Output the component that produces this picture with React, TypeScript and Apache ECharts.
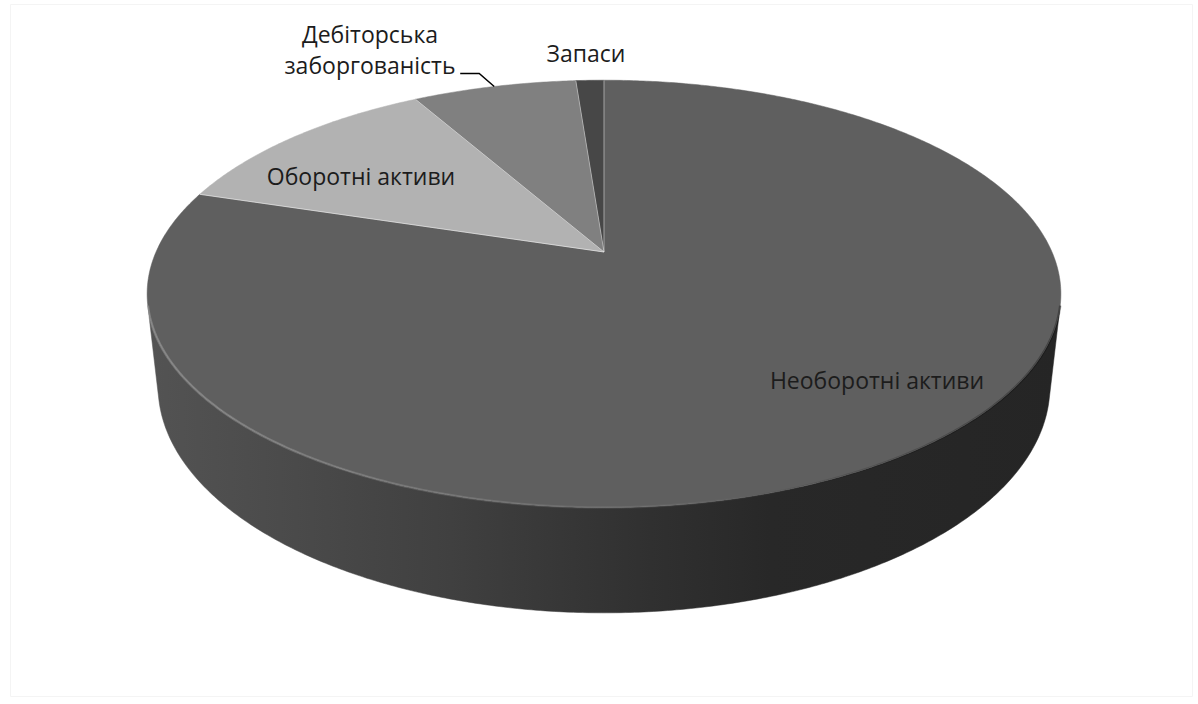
import { useEffect, useRef } from 'react';
import * as echarts from 'echarts';

// Balance structure, share of total (%)
const SLICE_NAMES = [
  'Необоротні активи',
  'Оборотні активи',
  'Дебіторська\nзаборгованість',
  'Запаси',
];
const SLICE_VALUES = [79.8, 12.0, 7.0, 1.2];
const SLICE_COLORS = ['#5f5f5f', '#b2b2b2', '#808080', '#474747'];

// Perspective camera for the tilted disk
const CENTER_X = 604;
const CENTER_Y = 252;
const SCALE = 448; // projected radius at unit depth
const PERSP = 0.2207; // radius / camera distance
const TILT = (27.3 * Math.PI) / 180;
const THICK = 0.234; // disk thickness / radius
const STEP = Math.PI / 360;

// Label anchors relative to the disk centre
const LABEL_OFFSETS = [
  [273, 128],
  [-243, -76],
  [-234, -203],
  [-18, -199],
];

const FONT = '"Open Sans", "Noto Sans", sans-serif';

function project(X: number, Y: number, Z: number): number[] {
  const s = Math.sin(TILT);
  const c = Math.cos(TILT);
  const depth = 1 + PERSP * (-Y * s + Z * c);
  return [CENTER_X + (SCALE * X) / depth, CENTER_Y - (SCALE * (Y * c + Z * s)) / depth];
}

// theta: clockwise from the far side of the disk
function rimPoint(theta: number, y: number): number[] {
  return project(Math.sin(theta), y, Math.cos(theta));
}

function rimArc(a: number, b: number, y: number): number[][] {
  const pts: number[][] = [];
  const n = Math.max(2, Math.ceil((b - a) / STEP));
  for (let k = 0; k <= n; k++) pts.push(rimPoint(a + ((b - a) * k) / n, y));
  return pts;
}

const total = SLICE_VALUES.reduce((s, v) => s + v, 0);
const sliceAngles = (() => {
  let acc = 0;
  return SLICE_VALUES.map((v) => {
    const a = (acc / total) * Math.PI * 2;
    acc += v;
    return [a, (acc / total) * Math.PI * 2];
  });
})();

// range of the outer wall facing the camera
const FRONT_A = Math.acos(-PERSP / Math.cos(TILT));
const FRONT_B = Math.PI * 2 - FRONT_A;

const wallFill = {
  type: 'linear',
  x: 150,
  y: 0,
  x2: 1062,
  y2: 0,
  global: true,
  colorStops: [
    { offset: 0, color: '#535353' },
    { offset: 0.16, color: '#4a4a4a' },
    { offset: 0.33, color: '#404040' },
    { offset: 0.45, color: '#373737' },
    { offset: 0.55, color: '#303030' },
    { offset: 0.68, color: '#282828' },
    { offset: 1, color: '#252525' },
  ],
};

const bevelStroke = {
  type: 'linear',
  x: 150,
  y: 0,
  x2: 1062,
  y2: 0,
  global: true,
  colorStops: [
    { offset: 0, color: 'rgba(255,255,255,0.22)' },
    { offset: 0.5, color: 'rgba(255,255,255,0.08)' },
    { offset: 0.75, color: 'rgba(0,0,0,0.12)' },
    { offset: 1, color: 'rgba(0,0,0,0.3)' },
  ],
};

export default function App() {
  const ref = useRef<HTMLDivElement>(null);

  useEffect(() => {
    if (!ref.current) return;
    const chart = echarts.init(ref.current, undefined, { renderer: 'svg' });
    const data = SLICE_VALUES.map((v, i) => ({ value: v, name: SLICE_NAMES[i] }));

    chart.setOption({
      animation: false,
      backgroundColor: '#ffffff',
      graphic: [
        {
          type: 'rect',
          shape: { x: 10.5, y: 4.5, width: 1182, height: 692 },
          style: { fill: 'none', stroke: '#f4f4f4', lineWidth: 1 },
          silent: true,
        },
      ],
      series: [
        {
          type: 'custom',
          name: 'wall',
          coordinateSystem: 'none',
          z: 1,
          silent: true,
          data,
          renderItem: (params: any) => {
            const [s, e] = sliceAngles[params.dataIndex];
            const a = Math.max(s, FRONT_A);
            const b = Math.min(e, FRONT_B);
            if (a >= b) return { type: 'group', children: [] };
            const top = rimArc(a, b, 0);
            const bottom = rimArc(a, b, -THICK).reverse();
            return {
              type: 'polygon',
              shape: { points: top.concat(bottom) },
              style: { fill: wallFill as any, stroke: wallFill as any, lineWidth: 0.5 },
            };
          },
        },
        {
          type: 'custom',
          name: 'top',
          coordinateSystem: 'none',
          z: 2,
          silent: true,
          data,
          renderItem: (params: any, api: any) => {
            const i = params.dataIndex;
            const [s, e] = sliceAngles[i];
            const c = project(0, 0, 0);
            const face = [c].concat(rimArc(s, e, 0));
            const children: any[] = [
              {
                type: 'polygon',
                shape: { points: face },
                style: { fill: SLICE_COLORS[i], stroke: SLICE_COLORS[i], lineWidth: 0.5 },
              },
              {
                // radial edge between neighbouring slices
                type: 'line',
                z2: 4,
                shape: { x1: c[0], y1: c[1], x2: rimPoint(s, 0)[0], y2: rimPoint(s, 0)[1] },
                style: { stroke: 'rgba(255,255,255,0.5)', lineWidth: 1 },
              },
            ];
            const a = Math.max(s, FRONT_A);
            const b = Math.min(e, FRONT_B);
            if (a < b) {
              children.push({
                type: 'polyline',
                shape: { points: rimArc(a, b, 0) },
                style: { fill: 'none', stroke: bevelStroke as any, lineWidth: 2.5 },
                z2: 5,
              });
            }
            const [dx, dy] = LABEL_OFFSETS[i];
            const lx = CENTER_X + dx;
            const ly = CENTER_Y + dy;
            children.push({
              type: 'text',
              x: lx,
              y: ly,
              z2: 20,
              style: {
                text: api.value(0) !== undefined ? SLICE_NAMES[i] : '',
                fill: '#1c1c1c',
                fontFamily: FONT,
                fontSize: 23,
                lineHeight: 31,
                align: 'center',
                verticalAlign: 'middle',
              },
            });
            if (SLICE_NAMES[i].includes('\n')) {
              // leader from the slice rim to the label
              const p = rimPoint((s + e) / 2, 0);
              const elbow = [p[0] - 15, p[1] - 13];
              children.push({
                type: 'polyline',
                z2: 20,
                shape: { points: [p, elbow, [elbow[0] - 19, elbow[1]]] },
                style: { fill: 'none', stroke: '#000000', lineWidth: 1.5 },
              });
            }
            return { type: 'group', children };
          },
        },
      ],
    });

    return () => chart.dispose();
  }, []);

  return (
    <div
      ref={ref}
      style={{ position: 'fixed', left: 0, top: 0, width: 1198, height: 704 }}
    />
  );
}
